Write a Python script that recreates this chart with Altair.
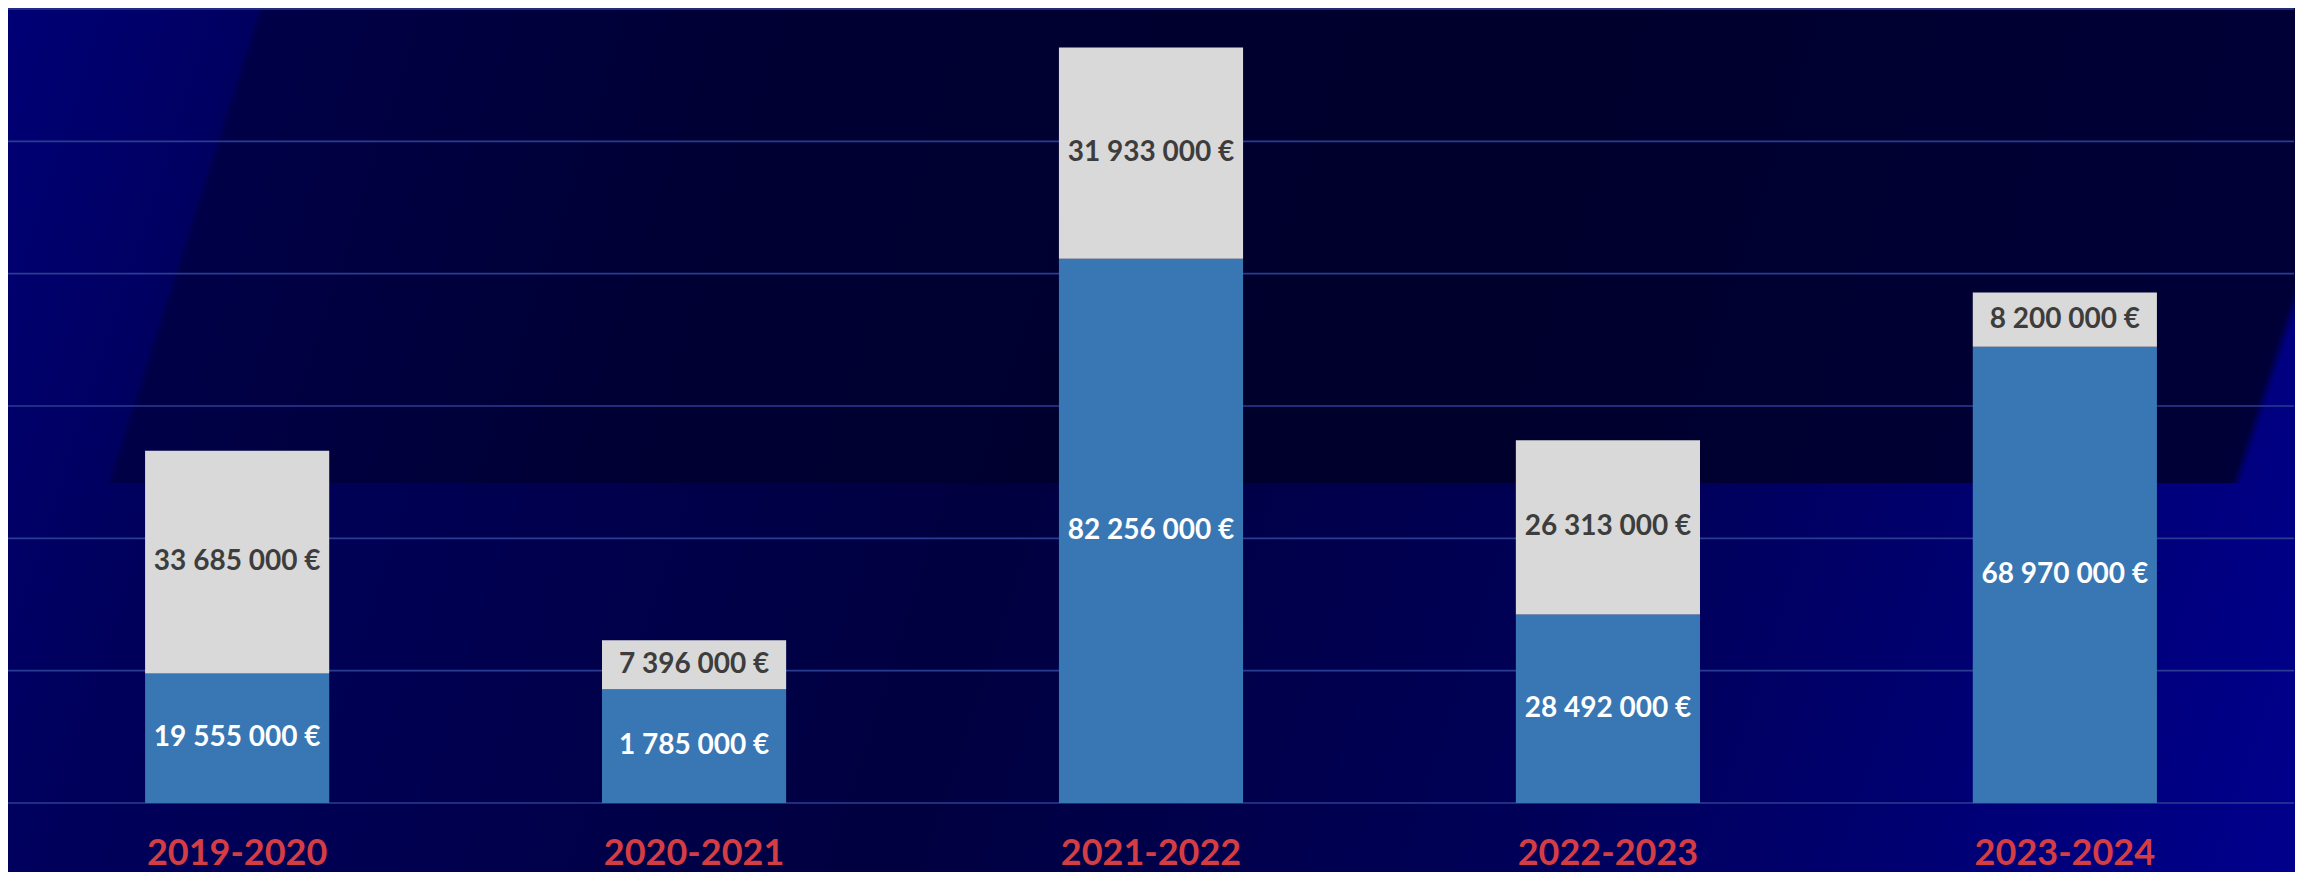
import altair as alt
import pandas as pd

# ---- data ----
years = ["2019-2020", "2020-2021", "2021-2022", "2022-2023", "2023-2024"]
# bar heights (as drawn)
blue_values = [19555000, 17200000, 82256000, 28492000, 68970000]
grey_values = [33685000, 7396000, 31933000, 26313000, 8200000]
# printed labels
blue_labels = ["19 555 000 €", "1 785 000 €", "82 256 000 €", "28 492 000 €", "68 970 000 €"]
grey_labels = ["33 685 000 €", "7 396 000 €", "31 933 000 €", "26 313 000 €", "8 200 000 €"]
series_names = ["Bleu", "Gris"]
grid_values = [0, 20000000, 40000000, 60000000, 80000000, 100000000, 120000000]

rows = []
for i, y in enumerate(years):
    rows.append({"year": y, "series": series_names[0], "value": blue_values[i], "label": blue_labels[i], "ord": 0})
    rows.append({"year": y, "series": series_names[1], "value": grey_values[i], "label": grey_labels[i], "ord": 1})
df = pd.DataFrame(rows)
grid_df = pd.DataFrame({"v": grid_values})
one = pd.DataFrame({"a": [0]})

W, H = 2286, 794
FONT = "Lato"
yscale = alt.Scale(domain=[0, 120000000], nice=False, zero=True)
xenc = alt.X("year:N", sort=years, title=None,
             scale=alt.Scale(paddingInner=0.597, paddingOuter=0.3),
             axis=alt.Axis(labelAngle=0, domain=False, ticks=False, tickSize=0, grid=False, zindex=2,
                           labelFont=FONT, labelFontSize=36, labelFontWeight="bold", labelLimit=600,
                           labelColor="#d43d43", labelBaseline="alphabetic", labelPadding=61))

base_bg = alt.Chart(one).mark_rect(
    fill=alt.LinearGradient(gradient="linear", x1=0, y1=0, x2=1.1, y2=0.135,
        stops=[alt.GradientStop(color="#000076", offset=0),
               alt.GradientStop(color="#00005c", offset=0.12),
               alt.GradientStop(color="#000040", offset=0.45),
               alt.GradientStop(color="#000058", offset=0.7),
               alt.GradientStop(color="#00008c", offset=1)])
).encode(x=alt.value(0), x2=alt.value(W + 1), y=alt.value(-1), y2=alt.value(H + 70))

overlay_bg = alt.Chart(one).mark_rect(
    fill=alt.LinearGradient(gradient="linear", x1=0, y1=0, x2=1.1, y2=0.073,
        stops=[alt.GradientStop(color="rgba(0,0,60,0)", offset=0),
               alt.GradientStop(color="rgba(0,0,60,0)", offset=0.099),
               alt.GradientStop(color="#000048", offset=0.102),
               alt.GradientStop(color="#000034", offset=0.3),
               alt.GradientStop(color="#00002c", offset=0.6),
               alt.GradientStop(color="#000038", offset=0.94),
               alt.GradientStop(color="rgba(0,0,60,0)", offset=0.944),
               alt.GradientStop(color="rgba(0,0,60,0)", offset=1)])
).encode(x=alt.value(0), x2=alt.value(W + 1), y=alt.value(-1), y2=alt.value(474))

grid = alt.Chart(grid_df).mark_rule(color="#2a3c92", strokeWidth=1.6).encode(
    y=alt.Y("v:Q", scale=yscale, axis=None)
)

bars = alt.Chart(df).mark_bar().encode(
    x=xenc,
    y=alt.Y("value:Q", stack="zero", scale=yscale, axis=None),
    color=alt.Color("series:N", scale=alt.Scale(domain=series_names, range=["#3877b3", "#d9d9d9"]), legend=None),
    order=alt.Order("ord:Q"),
)

texts = alt.Chart(df).transform_stack(
    stack="value", groupby=["year"], as_=["v0", "v1"], sort=[alt.SortField("ord")]
).transform_calculate(
    mid="(datum.v0 + datum.v1) / 2"
).mark_text(font=FONT, fontSize=28, fontWeight="bold", baseline="middle", align="center").encode(
    x=xenc,
    y=alt.Y("mid:Q", scale=yscale, axis=None),
    text="label:N",
    color=alt.condition(alt.datum.series == series_names[0], alt.value("#ffffff"), alt.value("#3d3d3d")),
)

chart = alt.layer(base_bg, overlay_bg, grid, bars, texts).properties(
    width=W, height=H,
    padding={"left": 0, "top": 1, "right": 1, "bottom": 69},
    autosize=alt.AutoSizeParams(type="none"),
    background="#00003e",
).configure_view(stroke=None)

chart.save("out.html", embed_options={"renderer": "svg", "actions": False})
